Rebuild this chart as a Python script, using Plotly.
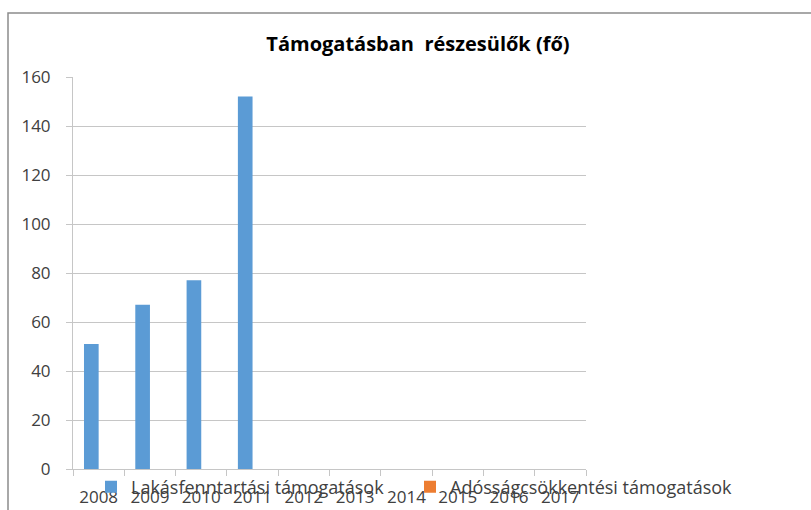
import plotly.graph_objects as go

years = ["2008", "2009", "2010", "2011", "2012", "2013", "2014", "2015", "2016", "2017"]
lakasfenntartasi = [51, 67, 77, 152, None, None, None, None, None, None]
adossagcsokkentesi = [None, None, None, None, None, None, None, None, None, None]
series_names = ["Lakásfenntartási támogatások", "Adósságcsökkentési támogatások"]
title_text = "Támogatásban  részesülők (fő)"

W, H = 811, 510
ML, MR, MT, MB = 73, 225, 77, 41
pw, ph = W - ML - MR, H - MT - MB

def px_x(x):
    return (x - ML) / pw

def px_y(y):
    return (H - MB - y) / ph

FONT = "Open Sans"
grid = "#c6c6c6"
txt = "#404040"

fig = go.Figure()
fig.add_trace(go.Bar(x=years, y=lakasfenntartasi, name=series_names[0], legend="legend",
                     marker=dict(color="#5b9bd5", line=dict(width=0))))
fig.add_trace(go.Bar(x=years, y=adossagcsokkentesi, name=series_names[1], legend="legend2",
                     marker=dict(color="#ed7d31", line=dict(width=0))))

legend_common = dict(orientation="h", xanchor="left", xref="container", yref="container",
                     yanchor="middle", y=1 - 487 / H,
                     font=dict(family=FONT, size=18, color=txt),
                     bgcolor="rgba(0,0,0,0)", itemwidth=30, itemclick=False)

fig.update_layout(
    width=W, height=H,
    margin=dict(l=ML, r=MR, t=MT, b=MB, autoexpand=False),
    paper_bgcolor="white", plot_bgcolor="white",
    barmode="group", bargap=0.4286, bargroupgap=0,
    font=dict(family=FONT, size=16, color=txt),
    title=dict(text="<b>" + title_text + "</b>", x=418 / W, xanchor="center",
               xref="container", y=1 - 44 / H, yanchor="middle", yref="container",
               font=dict(family=FONT, size=20, color="#000000")),
    showlegend=True,
    legend=dict(legend_common, x=91 / W),
    legend2=dict(legend_common, x=410 / W),
    xaxis=dict(type="category", showline=True, linecolor=grid, linewidth=1,
               ticks="outside", tickson="boundaries", ticklen=6, tickcolor=grid,
               showgrid=False, tickfont=dict(size=17, color=txt),
               ticklabelstandoff=13, fixedrange=True),
    yaxis=dict(range=[0, 160], tick0=0, dtick=20, showline=True, linecolor=grid,
               linewidth=1, ticks="outside", ticklen=6, tickcolor=grid,
               showgrid=True, gridcolor=grid, gridwidth=1, zeroline=False,
               tickfont=dict(size=17, color=txt), ticklabelstandoff=12,
               fixedrange=True),
)

# outer chart-area frame (cropped in the reference)
fig.add_shape(type="rect", xref="paper", yref="paper",
              x0=px_x(8), x1=px_x(W + 20), y0=px_y(H + 20), y1=px_y(13),
              line=dict(color="#8c8c8c", width=1.5), fillcolor="rgba(0,0,0,0)", layer="below")

fig.write_html("out.html", config={"displayModeBar": False},
               post_script="document.body.style.margin='0';")
